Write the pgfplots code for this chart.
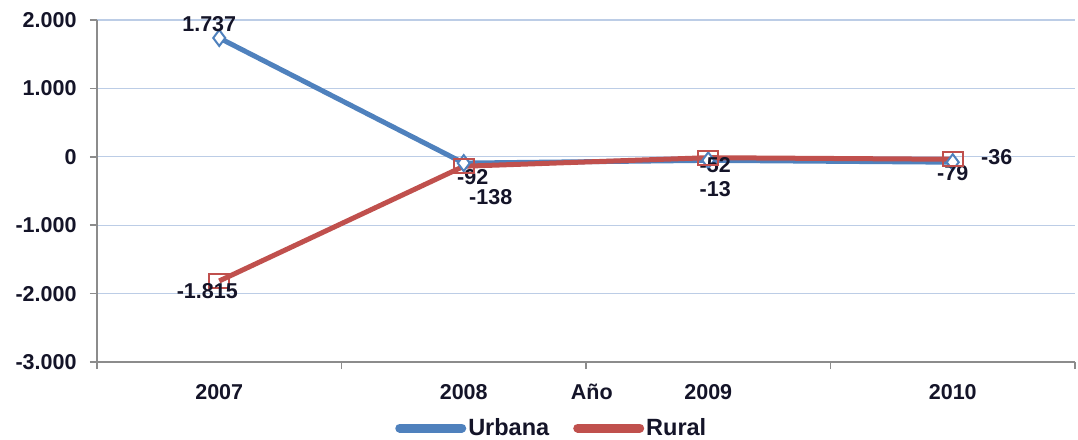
\documentclass[border=0pt]{standalone}
\usepackage{fontspec}
\setmainfont{Liberation Sans}
\usepackage{pgfplots}
\usepackage{pgfplotstable}
\pgfplotsset{compat=1.18}
\definecolor{cblue}{HTML}{4F81BD}
\definecolor{cred}{HTML}{C0504D}
\definecolor{cgrid}{RGB}{188,205,230}
\definecolor{caxis}{RGB}{140,140,140}
\definecolor{ctext}{RGB}{20,20,40}
\newcommand\cf{\fontsize{21.5}{25}\selectfont\bfseries}
\newcommand\lf{\fontsize{23.5}{27}\selectfont\bfseries}

\pgfplotstableread{
x y lab dx dy
0 1737 1.737 -10 14
1 -92 -92 9 -14
2 -52 -52 7 -5
3 -79 -79 0 -11
}\urbana
\pgfplotstableread{
x y lab dx dy
0 -1815 -1.815 -12 -10
1 -138 -138 27 -31
2 -13 -13 7 -31
3 -36 -36 44 2
}\rural

\begin{document}
\begin{tikzpicture}
\begin{axis}[
  scale only axis,
  width=978pt, height=342pt,
  xmin=-0.5, xmax=3.5,
  ymin=-3000, ymax=2000,
  ytick={-3000,-2000,...,2000},
  xtick={-0.5,0.5,1.5,2.5,3.5},
  xticklabels={},
  extra x ticks={0,1,2,3},
  extra x tick labels={2007,2008,2009,2010},
  extra x tick style={major tick length=0pt, xticklabel style={yshift=-19pt}},
  axis lines*=left,
  axis line style={caxis, line width=1.5pt, -},
  tick style={caxis, line width=1.5pt},
  major tick length=7pt,
  tick align=outside,
  ymajorgrids,
  grid style={cgrid, line width=1.2pt},
  /pgf/number format/.cd, fixed, precision=0, 1000 sep={.}, min exponent for 1000 sep=0, assume math mode=true,
  /pgfplots/.cd,
  ticklabel style={font=\cf, text=ctext},
  yticklabel style={xshift=-10pt},
  xlabel={Año},
  xlabel style={font=\cf, text=ctext, at={(axis description cs:0.506,-0.088)}, anchor=center},
  legend style={at={(axis description cs:0.465,-0.193)}, anchor=center, draw=none, fill=none,
    font=\lf, text=ctext, legend columns=2,
    /tikz/every even column/.append style={column sep=22pt}},
  legend image code/.code={\draw[#1, line width=9pt, line cap=round] (0pt,0pt) -- (62pt,0pt);},
  clip=false,
  nodes near coords,
  point meta=explicit symbolic,
  visualization depends on={\thisrow{dx}\as\dx},
  visualization depends on={\thisrow{dy}\as\dy},
  nodes near coords style={anchor=center, xshift=\dx pt, yshift=\dy pt, font=\cf, text=ctext, inner sep=0pt},
]
\addplot[cblue, line width=5pt, mark=diamond*, mark size=8pt,
  mark options={fill=white, draw=cblue, line width=2pt}]
  table[x=x, y=y, meta=lab]{\urbana};
\addlegendentry{Urbana}
\addplot[cred, line width=5pt, mark=square, mark size=7pt,
  mark options={draw=cred, line width=2pt, xscale=1.4}]
  table[x=x, y=y, meta=lab]{\rural};
\addlegendentry{Rural}
\end{axis}
\pgfresetboundingbox
\path (current axis.south west) ++(-97pt,-77pt) rectangle ++(1078pt,439pt);
\end{tikzpicture}
\end{document}
